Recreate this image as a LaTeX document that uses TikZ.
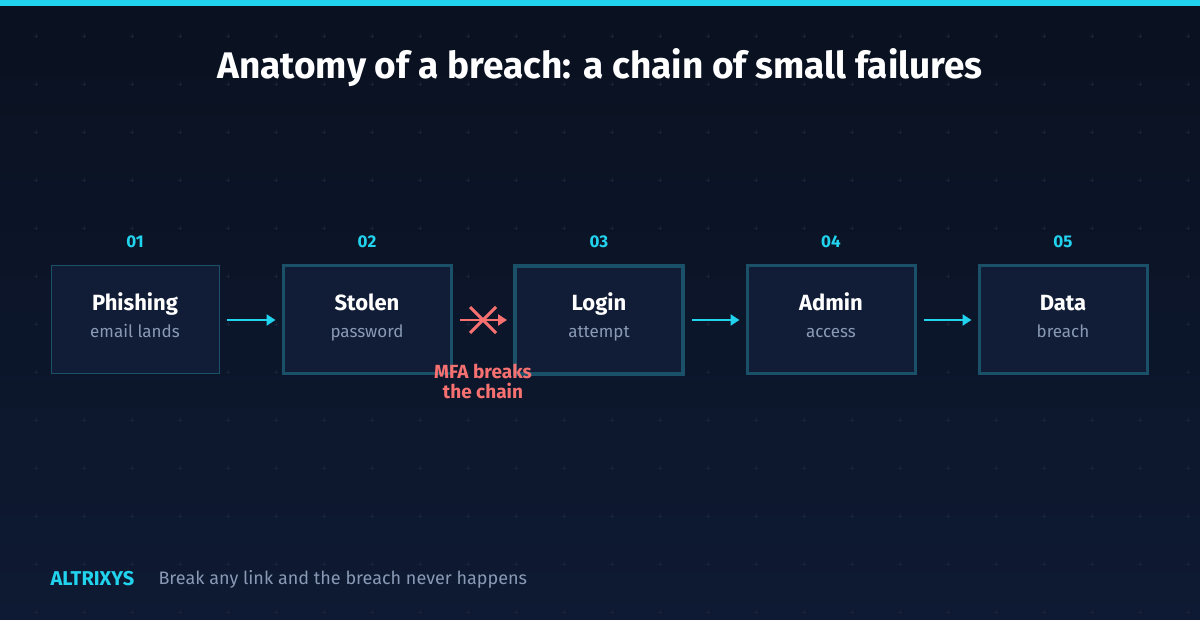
\documentclass[tikz,border=0pt]{standalone}
\usepackage{fontspec}
\setmainfont{Fira Sans}
\usetikzlibrary{arrows.meta}
\definecolor{bgtop}{HTML}{0A1120}
\definecolor{bgbot}{HTML}{0E1A33}
\definecolor{cyanc}{HTML}{22D3EE}
\definecolor{boxfill}{HTML}{111D36}
\definecolor{boxline}{HTML}{1A5068}
\definecolor{subc}{HTML}{8A9AB5}
\definecolor{redc}{HTML}{F87171}
\definecolor{gridc}{HTML}{1A2436}
\begin{document}
\begin{tikzpicture}[x=1pt,y=-1pt,
  stepbox/.style={draw=boxline,line width=3pt,fill=boxfill,minimum width=168pt,minimum height=108pt,inner sep=0pt},
  num/.style={anchor=base,text=cyanc,font=\fontsize{17}{20}\selectfont\bfseries},
  ttl/.style={anchor=base,text=white,font=\fontsize{22}{26}\selectfont\bfseries},
  sub/.style={anchor=base,text=subc,font=\fontsize{17}{20}\selectfont},
  arr/.style={draw=cyanc,line width=2.5pt,-{Triangle[length=9pt,width=11pt]}}]
\useasboundingbox (0,0) rectangle (1200,620);
\shade[top color=bgtop,bottom color=bgbot] (0,0) rectangle (1200,620);
\fill[cyanc] (0,0) rectangle (1200,6);
\foreach \i in {0,...,24} \foreach \j in {0,...,12}
  \draw[gridc,line width=0.6pt] ({36+48*\i-2},{36+48*\j}) -- ++(4,0) ({36+48*\i},{36+48*\j-2}) -- ++(0,4);
\node[text=white,font=\fontsize{37}{42}\selectfont\bfseries] (title) at (600,68) {Anatomy of a breach: a chain of small failures};
\node[stepbox,line width=1pt] (b1) at (135,320) {};
\node[stepbox] (b2) at (367,320) {};
\node[stepbox,line width=4pt] (b3) at (599,320) {};
\node[stepbox] (b4) at (831,320) {};
\node[stepbox] (b5) at (1063,320) {};
\foreach \b/\n/\t/\s in {b1/01/Phishing/email lands,b2/02/Stolen/password,b3/03/Login/attempt,b4/04/Admin/access,b5/05/Data/breach}{
  \node[num] (\b n) at ([yshift=72pt]\b.center) {\n};
  \node[ttl] (\b t) at ([yshift=9pt]\b.center) {\t};
  \node[sub] (\b s) at ([yshift=-18pt]\b.center) {\s};
}
\draw[arr] ([xshift=7pt]b1.east) -- ([xshift=-6pt]b2.west);
\draw[arr] ([xshift=7pt]b3.east) -- ([xshift=-6pt]b4.west);
\draw[arr] ([xshift=7pt]b4.east) -- ([xshift=-6pt]b5.west);
\draw[arr,draw=redc] ([xshift=7pt]b2.east) -- ([xshift=-6pt]b3.west);
\coordinate (xc) at (483,320);
\draw[redc,line width=3pt] ([shift={(-13,-13)}]xc) -- ([shift={(13,13)}]xc) ([shift={(-13,13)}]xc) -- ([shift={(13,-13)}]xc);
\node[text=redc,font=\fontsize{19}{20}\selectfont\bfseries,align=center] (mfa) at (483,381) {MFA breaks\\the chain};
\node[text=cyanc,font=\fontsize{20}{22}\selectfont\bfseries,anchor=west] (brand) at (47,579) {ALTRIXYS};
\node[text=subc,font=\fontsize{18}{20}\selectfont,anchor=west] (tag) at (155,579) {Break any link and the breach never happens};
\end{tikzpicture}
\end{document}
